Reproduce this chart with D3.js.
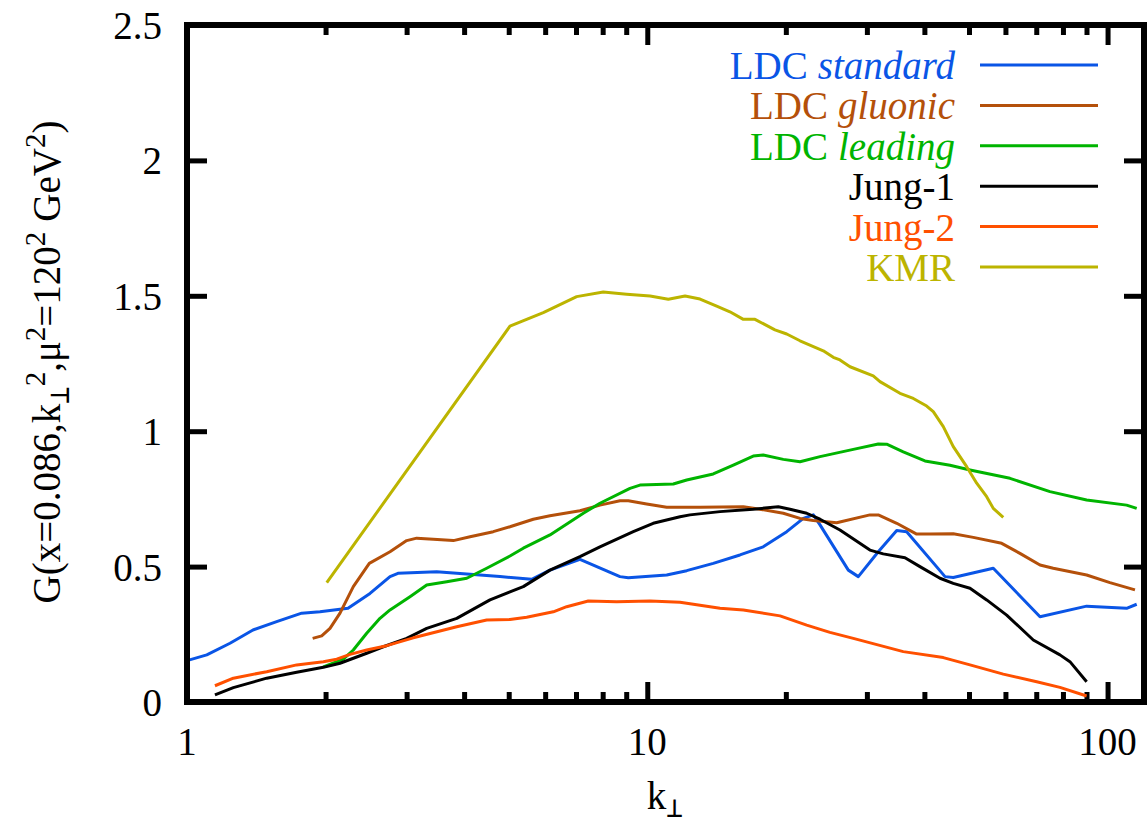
<!DOCTYPE html>
<html>
<head>
<meta charset="utf-8">
<script src="https://cdn.jsdelivr.net/npm/d3@7"></script>
<style>
  body { margin: 0; background: #fff; }
</style>
</head>
<body>
<div id="chart"></div>
<script>
// k_perp values with G, one array per curve
const ldcStandard = [
  [1.0, 0.153], [1.104, 0.174], [1.24, 0.217], [1.391, 0.266], [1.566, 0.297],
  [1.775, 0.328], [1.945, 0.333], [2.238, 0.346], [2.498, 0.401], [2.761, 0.463],
  [2.873, 0.475], [3.487, 0.481], [4.053, 0.473], [4.786, 0.463], [5.609, 0.453],
  [6.146, 0.487], [7.141, 0.527], [8.723, 0.463], [9.093, 0.459], [11.02, 0.469],
  [12.18, 0.485], [13.91, 0.512], [15.90, 0.543], [17.86, 0.573], [20.09, 0.629],
  [21.83, 0.678], [22.95, 0.691], [23.73, 0.654], [27.34, 0.487], [28.74, 0.463],
  [31.76, 0.555], [34.83, 0.633], [36.61, 0.629], [44.35, 0.463], [46.22, 0.460],
  [56.46, 0.494], [71.32, 0.315], [90.07, 0.354], [110.0, 0.346], [115.7, 0.361]
]
const ldcGluonic = [
  [1.875, 0.235], [1.962, 0.244], [2.045, 0.272], [2.150, 0.328], [2.298, 0.426],
  [2.489, 0.512], [2.761, 0.555], [3.001, 0.596], [3.155, 0.605], [3.428, 0.601],
  [3.790, 0.596], [4.121, 0.610], [4.628, 0.629], [5.031, 0.647], [5.654, 0.675],
  [6.146, 0.688], [7.141, 0.706], [7.892, 0.727], [8.723, 0.743], [9.093, 0.743],
  [9.970, 0.731], [11.02, 0.719], [13.02, 0.719], [16.17, 0.721], [17.57, 0.712],
  [19.75, 0.697], [21.47, 0.678], [22.95, 0.670], [25.79, 0.662], [30.46, 0.691],
  [31.76, 0.691], [34.83, 0.660], [38.48, 0.620], [41.13, 0.620], [46.22, 0.621],
  [51.08, 0.608], [58.88, 0.586], [64.51, 0.549], [71.32, 0.506], [76.21, 0.494],
  [90.07, 0.469], [101.2, 0.441], [114.7, 0.414]
]
const ldcLeading = [
  [1.978, 0.130], [2.186, 0.158], [2.298, 0.192], [2.457, 0.254], [2.626, 0.309],
  [2.761, 0.340], [3.051, 0.389], [3.317, 0.432], [3.667, 0.444], [4.053, 0.457],
  [4.478, 0.494], [5.031, 0.539], [5.378, 0.568], [6.146, 0.617], [7.261, 0.697],
  [7.892, 0.734], [9.171, 0.789], [9.641, 0.801], [11.39, 0.805], [12.18, 0.820],
  [13.91, 0.842], [15.38, 0.875], [16.99, 0.908], [17.86, 0.912], [19.75, 0.896],
  [21.47, 0.887], [23.73, 0.906], [28.03, 0.933], [31.76, 0.953], [33.12, 0.952],
  [35.99, 0.924], [40.11, 0.890], [45.47, 0.874], [50.25, 0.857], [61.38, 0.826],
  [74.97, 0.777], [90.07, 0.746], [110.0, 0.727], [115.7, 0.715]
]
const jung1 = [
  [1.150, 0.026], [1.261, 0.053], [1.490, 0.088], [1.731, 0.110], [1.978, 0.128],
  [2.150, 0.143], [2.457, 0.180], [2.670, 0.204], [3.001, 0.235], [3.317, 0.272],
  [3.855, 0.309], [4.553, 0.377], [5.031, 0.407], [5.378, 0.426], [6.146, 0.487],
  [7.141, 0.537], [7.892, 0.573], [9.324, 0.629], [10.30, 0.660], [11.78, 0.684],
  [12.38, 0.691], [14.39, 0.703], [16.99, 0.712], [19.26, 0.721], [20.42, 0.712],
  [22.20, 0.697], [23.73, 0.675], [26.22, 0.635], [30.46, 0.561], [32.56, 0.547],
  [36.30, 0.533], [39.12, 0.500], [43.25, 0.457], [46.22, 0.438], [50.25, 0.420],
  [54.62, 0.377], [60.37, 0.321], [68.96, 0.229], [78.81, 0.174], [82.84, 0.149],
  [90.07, 0.075]
]
const jung2 = [
  [1.150, 0.060], [1.261, 0.088], [1.490, 0.112], [1.731, 0.137], [1.978, 0.149],
  [2.115, 0.158], [2.261, 0.176], [2.457, 0.192], [2.716, 0.208], [3.102, 0.237],
  [3.855, 0.278], [4.478, 0.303], [5.031, 0.305], [5.470, 0.313], [6.249, 0.333],
  [6.682, 0.352], [7.444, 0.373], [8.580, 0.370], [10.14, 0.373], [11.78, 0.368],
  [14.39, 0.346], [16.17, 0.340], [19.43, 0.318], [22.20, 0.284], [24.94, 0.257],
  [28.03, 0.235], [35.99, 0.186], [43.97, 0.164], [50.25, 0.137], [59.35, 0.103],
  [70.15, 0.075], [78.81, 0.054], [90.07, 0.022]
]
const kmr = [
  [2.012, 0.441], [5.031, 1.388], [5.944, 1.438], [7.024, 1.497], [8.024, 1.514],
  [9.020, 1.506], [10.14, 1.499], [11.11, 1.487], [12.08, 1.499], [13.02, 1.488],
  [14.15, 1.462], [15.12, 1.441], [16.17, 1.413], [17.14, 1.413], [18.94, 1.374],
  [20.09, 1.359], [21.47, 1.334], [24.12, 1.297], [25.36, 1.273], [26.22, 1.263],
  [27.57, 1.238], [30.97, 1.204], [32.03, 1.183], [35.40, 1.140], [37.84, 1.121],
  [40.46, 1.093], [41.82, 1.072], [43.97, 1.017], [46.22, 0.943], [49.42, 0.869],
  [51.96, 0.808], [54.62, 0.758], [56.46, 0.715], [59.35, 0.682]
]

const seriesNames = ["LDC", "LDC", "LDC", "Jung-1", "Jung-2", "KMR"]
const seriesItalic = ["standard", "gluonic", "leading", "", "", ""]
const seriesColors = ["#0a55e6", "#b4500a", "#00b400", "#000000", "#ff5000", "#bcb400"]
const seriesData = [ldcStandard, ldcGluonic, ldcLeading, jung1, jung2, kmr]

const xMajor = [1, 10, 100]
const xMinor = [2, 3, 4, 5, 6, 7, 8, 9, 20, 30, 40, 50, 60, 70, 80, 90]
const yTicks = [0, 0.5, 1, 1.5, 2, 2.5]

const FONT = "'Liberation Serif', 'Times New Roman', Times, monospace"
const MARGIN = { top: 25, right: 3, bottom: 122, left: 187 }
const WIDTH = 1147 - MARGIN.left - MARGIN.right
const HEIGHT = 824 - MARGIN.top - MARGIN.bottom

const svg = d3.select("#chart").append("svg")
  .attr("width", 1147)
  .attr("height", 824)

const g = svg.append("g")
  .attr("transform", `translate(${MARGIN.left},${MARGIN.top})`)

const x = d3.scaleLog().domain([1, 120]).range([0, WIDTH])
const y = d3.scaleLinear().domain([0, 2.5]).range([HEIGHT, 0])

// plain text element, no tspans
function label(parent, str, size) {
  return parent.append("text")
    .attr("font-size", size)
    .style("font-family", FONT)
    .style("font-size", size)
    .text(str)
}

// ticks, mirrored on all four sides, pointing inwards
function ticks(axis, transform) {
  const a = g.append("g").attr("transform", transform).call(axis)
  a.select(".domain").remove()
  a.selectAll(".tick line").attr("stroke", "#000").attr("stroke-width", 5)
  a.selectAll(".tick text").remove()
}
ticks(d3.axisBottom(x).tickValues(xMajor).tickSize(-20), `translate(0,${HEIGHT})`)
ticks(d3.axisBottom(x).tickValues(xMinor).tickSize(-10), `translate(0,${HEIGHT})`)
ticks(d3.axisTop(x).tickValues(xMajor).tickSize(-20), "translate(0,0)")
ticks(d3.axisTop(x).tickValues(xMinor).tickSize(-10), "translate(0,0)")
ticks(d3.axisLeft(y).tickValues(yTicks).tickSize(-20), "translate(0,0)")
ticks(d3.axisRight(y).tickValues(yTicks).tickSize(-20), `translate(${WIDTH},0)`)

// tick labels
xMajor.forEach(d => {
  label(g, d, "39px")
    .attr("x", x(d))
    .attr("y", HEIGHT + 53)
    .attr("text-anchor", "middle")
})
yTicks.forEach(d => {
  label(g, d, "39px")
    .attr("x", -25)
    .attr("y", d => y(d))
    .attr("y", y(d))
    .attr("dy", "0.36em")
    .attr("text-anchor", "end")
})

// curves
const line = d3.line()
  .x(d => x(d[0]))
  .y(d => y(d[1]))

seriesData.forEach((data, i) => {
  g.append("path")
    .datum(data)
    .attr("fill", "none")
    .attr("stroke", seriesColors[i])
    .attr("stroke-width", 3)
    .attr("stroke-linejoin", "round")
    .attr("d", line)
})

// frame
g.append("rect")
  .attr("width", WIDTH)
  .attr("height", HEIGHT)
  .attr("fill", "none")
  .attr("stroke", "#000")
  .attr("stroke-width", 6)

// legend
const legend = g.append("g").attr("transform", "translate(0,40)")
const legendRight = 955 - MARGIN.left
seriesNames.forEach((name, i) => {
  const row = legend.append("g").attr("transform", `translate(0,${i * 40.4})`)
  let right = legendRight
  if (seriesItalic[i]) {
    const it = label(row, seriesItalic[i], "39px")
      .attr("x", right)
      .attr("y", 14)
      .attr("text-anchor", "end")
      .attr("fill", seriesColors[i])
      .style("font-style", "italic")
    right -= it.node().getComputedTextLength() + 10
  }
  label(row, name, "39px")
    .attr("x", right)
    .attr("y", 14)
    .attr("text-anchor", "end")
    .attr("fill", seriesColors[i])
  row.append("line")
    .attr("x1", 980 - MARGIN.left)
    .attr("x2", 1098 - MARGIN.left)
    .attr("stroke", seriesColors[i])
    .attr("stroke-width", 3)
})

// axis titles, built piece by piece: [text, size, baseline shift, gap before]
function sequence(parent, parts) {
  let pos = 0
  parts.forEach(p => {
    pos += p[3] || 0
    const t = label(parent, p[0], p[1]).attr("x", pos).attr("y", p[2])
    pos += t.node().getComputedTextLength()
  })
  return pos
}

const xt = svg.append("g")
const xw = sequence(xt, [["k", "39px", 0], ["⊥", "28px", 8]])
xt.attr("transform", `translate(${665 - xw / 2},809)`)

const yt = svg.append("g")
const yw = sequence(yt, [
  ["G(x=0.086,k", "39px", 0], ["⊥", "29px", 9], ["2", "29px", -15],
  [",μ", "39px", 0], ["2", "29px", -15], ["=120", "39px", 0],
  ["2", "29px", -15], ["GeV", "39px", 0, 10], ["2", "29px", -15], [")", "39px", 0]
])
yt.attr("transform", `translate(60,${362 + yw / 2}) rotate(-90)`)
</script>
</body>
</html>
